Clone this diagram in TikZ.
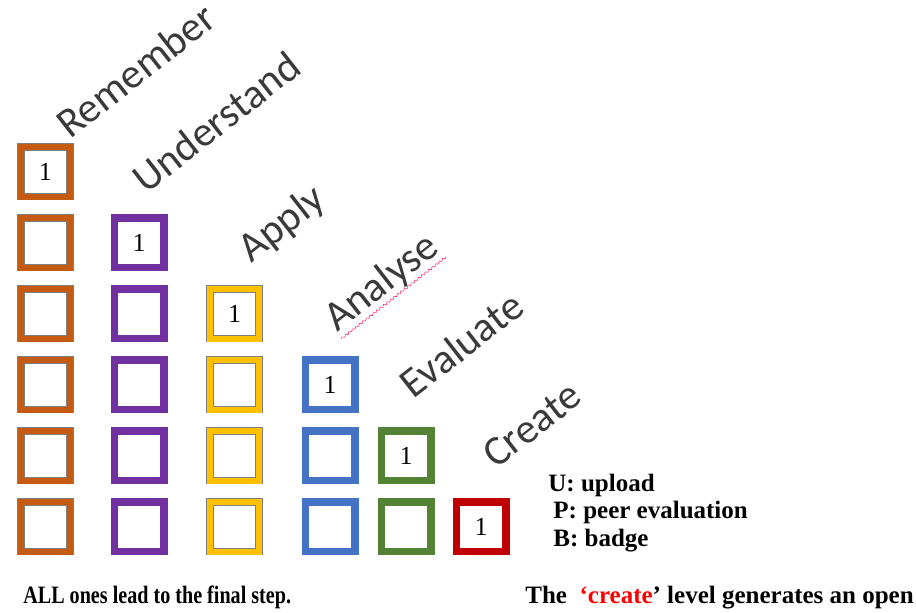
\documentclass[tikz,border=0pt]{standalone}
\usepackage{fontspec}
\setmainfont{Liberation Serif}
\newfontfamily\lvlfont{Carlito}
\usetikzlibrary{decorations.pathmorphing}

\definecolor{lvlbrown}{HTML}{C55A11}
\definecolor{lvlpurple}{HTML}{7030A0}
\definecolor{lvlgold}{HTML}{FFC000}
\definecolor{lvlblue}{HTML}{4472C4}
\definecolor{lvlgreen}{HTML}{548235}
\definecolor{lvlred}{HTML}{C00000}
\definecolor{lvltext}{HTML}{3A3A3A}
\definecolor{rimgray}{HTML}{7F7F7F}

\tikzset{
  cell/.style 2 args={draw=#2, double=#1, line width=0.4pt, double distance=3pt,
    minimum size=24.7pt, inner sep=0pt, font=\fontsize{13}{13}\selectfont},
  level/.style={anchor=base west, rotate=38, inner sep=0pt, text=lvltext,
    font=\lvlfont\fontsize{21}{21}\selectfont},
  note/.style={anchor=base west, inner sep=0pt, font=\bfseries\fontsize{12.5}{12.5}\selectfont},
}

\begin{document}
\begin{tikzpicture}[x=0.5pt,y=-0.5pt]
  \useasboundingbox (0,0) rectangle (916,613);
  % one column of boxes per level, the first box holds the 1
  \foreach \c/\x/\fc/\ec in {0/45.5/lvlbrown/rimgray, 1/139/lvlpurple/lvlpurple,
      2/234.5/lvlgold/rimgray, 3/330/lvlblue/lvlblue, 4/406/lvlgreen/lvlgreen,
      5/481/lvlred/lvlred}
  {
    \foreach \r in {\c,...,5}
    {
      \ifnum\r=\c \def\txt{1}\else \def\txt{}\fi
      \node[cell={\fc}{\ec}] (b\c\r) at (\x,{172+71*\r}) {\txt};
    }
  }
  % level names
  \node[level] (remember) at (70,140) {Remember};
  \node[level] (understand) at (146,195) {Understand};
  \node[level] (apply) at (251,264) {Apply};
  \node[level] (analyse) at (337,333) {Analyse};
  \node[level] (evaluate) at (413,400) {Evaluate};
  \node[level] (create) at (496,470) {Create};
  \draw[red!70!magenta!80, line width=0.3pt, decorate,
    decoration={snake, amplitude=0.5pt, segment length=2.2pt}]
    (analyse.south west) -- (analyse.south east);
  % legend
  \node[note] (upload) at (548,492) {U: upload};
  \node[note] (peer) at (553,519) {P: peer evaluation};
  \node[note] (badge) at (553,547) {B: badge};
  % captions
  \node[note, xscale=0.805] (final) at (23,604) {ALL ones lead to the final step.};
  \node[note] (open) at (525,604) {The\ \ \textcolor{red}{‘create}’ level generates an open};
\end{tikzpicture}
\end{document}
